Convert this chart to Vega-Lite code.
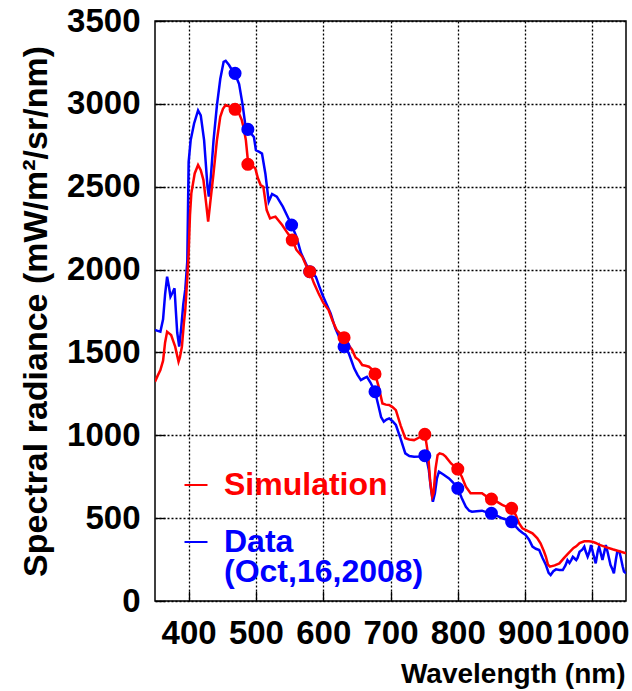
{
  "$schema": "https://vega.github.io/schema/vega-lite/v6.json",
  "width": 471,
  "height": 580,
  "autosize": {"type": "none"},
  "padding": {"left": 155, "top": 21, "right": 6, "bottom": 90},
  "background": "white",
  "config": {
    "view": {"stroke": "black", "strokeWidth": 1.5},
    "font": "Liberation Sans",
    "axis": {"labelFont": "Liberation Sans", "labelFontWeight": "bold", "labelColor": "black", "titleFont": "Liberation Sans", "titleFontWeight": "bold", "titleColor": "black"}
  },
  "datasets": {
    "lines": [
      {"w":350,"v":1635,"s":"Data"},{"w":354,"v":1630,"s":"Data"},{"w":358,"v":1625,"s":"Data"},{"w":362,"v":1700,"s":"Data"},{"w":365,"v":1850,"s":"Data"},{"w":368,"v":1957,"s":"Data"},{"w":371,"v":1890,"s":"Data"},{"w":373,"v":1836,"s":"Data"},{"w":376,"v":1860,"s":"Data"},{"w":379,"v":1887,"s":"Data"},{"w":381,"v":1750,"s":"Data"},{"w":383,"v":1620,"s":"Data"},{"w":386,"v":1535,"s":"Data"},{"w":389,"v":1650,"s":"Data"},{"w":392,"v":1790,"s":"Data"},{"w":395,"v":1880,"s":"Data"},{"w":398,"v":2050,"s":"Data"},{"w":400,"v":2650,"s":"Data"},{"w":403,"v":2780,"s":"Data"},{"w":408,"v":2880,"s":"Data"},{"w":414,"v":2960,"s":"Data"},{"w":418,"v":2930,"s":"Data"},{"w":423,"v":2780,"s":"Data"},{"w":428,"v":2500,"s":"Data"},{"w":430,"v":2440,"s":"Data"},{"w":433,"v":2560,"s":"Data"},{"w":437,"v":2780,"s":"Data"},{"w":442,"v":2990,"s":"Data"},{"w":447,"v":3150,"s":"Data"},{"w":452,"v":3254,"s":"Data"},{"w":455,"v":3260,"s":"Data"},{"w":460,"v":3234,"s":"Data"},{"w":465,"v":3200,"s":"Data"},{"w":470,"v":3170,"s":"Data"},{"w":475,"v":3120,"s":"Data"},{"w":480,"v":3000,"s":"Data"},{"w":484,"v":2880,"s":"Data"},{"w":488,"v":2846,"s":"Data"},{"w":493,"v":2820,"s":"Data"},{"w":497,"v":2800,"s":"Data"},{"w":500,"v":2720,"s":"Data"},{"w":505,"v":2710,"s":"Data"},{"w":509,"v":2700,"s":"Data"},{"w":514,"v":2580,"s":"Data"},{"w":519,"v":2410,"s":"Data"},{"w":524,"v":2456,"s":"Data"},{"w":531,"v":2440,"s":"Data"},{"w":540,"v":2380,"s":"Data"},{"w":547,"v":2320,"s":"Data"},{"w":553,"v":2269,"s":"Data"},{"w":560,"v":2200,"s":"Data"},{"w":567,"v":2100,"s":"Data"},{"w":574,"v":2038,"s":"Data"},{"w":580,"v":1987,"s":"Data"},{"w":585,"v":1970,"s":"Data"},{"w":589,"v":1957,"s":"Data"},{"w":594,"v":1900,"s":"Data"},{"w":599,"v":1846,"s":"Data"},{"w":605,"v":1790,"s":"Data"},{"w":611,"v":1736,"s":"Data"},{"w":618,"v":1645,"s":"Data"},{"w":624,"v":1590,"s":"Data"},{"w":631,"v":1535,"s":"Data"},{"w":638,"v":1495,"s":"Data"},{"w":642,"v":1450,"s":"Data"},{"w":646,"v":1404,"s":"Data"},{"w":651,"v":1365,"s":"Data"},{"w":656,"v":1333,"s":"Data"},{"w":661,"v":1345,"s":"Data"},{"w":665,"v":1353,"s":"Data"},{"w":670,"v":1320,"s":"Data"},{"w":677,"v":1263,"s":"Data"},{"w":682,"v":1180,"s":"Data"},{"w":686,"v":1110,"s":"Data"},{"w":690,"v":1082,"s":"Data"},{"w":694,"v":1095,"s":"Data"},{"w":698,"v":1102,"s":"Data"},{"w":703,"v":1085,"s":"Data"},{"w":708,"v":1062,"s":"Data"},{"w":715,"v":980,"s":"Data"},{"w":722,"v":891,"s":"Data"},{"w":728,"v":875,"s":"Data"},{"w":735,"v":871,"s":"Data"},{"w":743,"v":872,"s":"Data"},{"w":751,"v":877,"s":"Data"},{"w":754,"v":850,"s":"Data"},{"w":757,"v":790,"s":"Data"},{"w":760,"v":680,"s":"Data"},{"w":763,"v":599,"s":"Data"},{"w":766,"v":650,"s":"Data"},{"w":769,"v":740,"s":"Data"},{"w":772,"v":780,"s":"Data"},{"w":778,"v":765,"s":"Data"},{"w":787,"v":740,"s":"Data"},{"w":793,"v":715,"s":"Data"},{"w":800,"v":680,"s":"Data"},{"w":806,"v":620,"s":"Data"},{"w":812,"v":569,"s":"Data"},{"w":817,"v":545,"s":"Data"},{"w":821,"v":539,"s":"Data"},{"w":828,"v":542,"s":"Data"},{"w":836,"v":545,"s":"Data"},{"w":843,"v":535,"s":"Data"},{"w":850,"v":529,"s":"Data"},{"w":858,"v":515,"s":"Data"},{"w":866,"v":499,"s":"Data"},{"w":873,"v":490,"s":"Data"},{"w":880,"v":478,"s":"Data"},{"w":886,"v":450,"s":"Data"},{"w":891,"v":428,"s":"Data"},{"w":896,"v":412,"s":"Data"},{"w":901,"v":398,"s":"Data"},{"w":906,"v":370,"s":"Data"},{"w":911,"v":328,"s":"Data"},{"w":916,"v":315,"s":"Data"},{"w":921,"v":308,"s":"Data"},{"w":926,"v":260,"s":"Data"},{"w":931,"v":217,"s":"Data"},{"w":935,"v":170,"s":"Data"},{"w":938,"v":157,"s":"Data"},{"w":942,"v":180,"s":"Data"},{"w":946,"v":191,"s":"Data"},{"w":951,"v":187,"s":"Data"},{"w":956,"v":187,"s":"Data"},{"w":960,"v":215,"s":"Data"},{"w":963,"v":247,"s":"Data"},{"w":966,"v":230,"s":"Data"},{"w":969,"v":250,"s":"Data"},{"w":971,"v":267,"s":"Data"},{"w":974,"v":255,"s":"Data"},{"w":976,"v":247,"s":"Data"},{"w":978,"v":260,"s":"Data"},{"w":981,"v":297,"s":"Data"},{"w":985,"v":310,"s":"Data"},{"w":988,"v":328,"s":"Data"},{"w":990,"v":300,"s":"Data"},{"w":993,"v":267,"s":"Data"},{"w":996,"v":300,"s":"Data"},{"w":998,"v":338,"s":"Data"},{"w":1001,"v":290,"s":"Data"},{"w":1005,"v":227,"s":"Data"},{"w":1008,"v":300,"s":"Data"},{"w":1010,"v":328,"s":"Data"},{"w":1013,"v":280,"s":"Data"},{"w":1015,"v":247,"s":"Data"},{"w":1018,"v":300,"s":"Data"},{"w":1020,"v":338,"s":"Data"},{"w":1023,"v":290,"s":"Data"},{"w":1027,"v":217,"s":"Data"},{"w":1030,"v":190,"s":"Data"},{"w":1032,"v":167,"s":"Data"},{"w":1035,"v":250,"s":"Data"},{"w":1037,"v":297,"s":"Data"},{"w":1040,"v":300,"s":"Data"},{"w":1042,"v":267,"s":"Data"},{"w":1045,"v":210,"s":"Data"},{"w":1047,"v":177,"s":"Data"},{"w":1050,"v":167,"s":"Data"},
      {"w":350,"v":1323,"s":"Simulation"},{"w":354,"v":1360,"s":"Simulation"},{"w":358,"v":1394,"s":"Simulation"},{"w":362,"v":1450,"s":"Simulation"},{"w":365,"v":1560,"s":"Simulation"},{"w":368,"v":1625,"s":"Simulation"},{"w":371,"v":1615,"s":"Simulation"},{"w":374,"v":1605,"s":"Simulation"},{"w":377,"v":1570,"s":"Simulation"},{"w":380,"v":1535,"s":"Simulation"},{"w":383,"v":1480,"s":"Simulation"},{"w":385,"v":1444,"s":"Simulation"},{"w":387,"v":1470,"s":"Simulation"},{"w":390,"v":1535,"s":"Simulation"},{"w":393,"v":1680,"s":"Simulation"},{"w":395,"v":1756,"s":"Simulation"},{"w":398,"v":1950,"s":"Simulation"},{"w":400,"v":2100,"s":"Simulation"},{"w":402,"v":2330,"s":"Simulation"},{"w":404,"v":2460,"s":"Simulation"},{"w":409,"v":2580,"s":"Simulation"},{"w":414,"v":2631,"s":"Simulation"},{"w":418,"v":2600,"s":"Simulation"},{"w":422,"v":2540,"s":"Simulation"},{"w":426,"v":2400,"s":"Simulation"},{"w":429,"v":2289,"s":"Simulation"},{"w":432,"v":2400,"s":"Simulation"},{"w":437,"v":2581,"s":"Simulation"},{"w":442,"v":2780,"s":"Simulation"},{"w":447,"v":2922,"s":"Simulation"},{"w":451,"v":2970,"s":"Simulation"},{"w":455,"v":2993,"s":"Simulation"},{"w":460,"v":2985,"s":"Simulation"},{"w":465,"v":2975,"s":"Simulation"},{"w":470,"v":2960,"s":"Simulation"},{"w":475,"v":2940,"s":"Simulation"},{"w":479,"v":2902,"s":"Simulation"},{"w":482,"v":2850,"s":"Simulation"},{"w":485,"v":2782,"s":"Simulation"},{"w":488,"v":2660,"s":"Simulation"},{"w":493,"v":2630,"s":"Simulation"},{"w":499,"v":2611,"s":"Simulation"},{"w":503,"v":2551,"s":"Simulation"},{"w":507,"v":2510,"s":"Simulation"},{"w":511,"v":2500,"s":"Simulation"},{"w":516,"v":2359,"s":"Simulation"},{"w":521,"v":2309,"s":"Simulation"},{"w":525,"v":2315,"s":"Simulation"},{"w":529,"v":2319,"s":"Simulation"},{"w":539,"v":2269,"s":"Simulation"},{"w":547,"v":2220,"s":"Simulation"},{"w":554,"v":2182,"s":"Simulation"},{"w":560,"v":2120,"s":"Simulation"},{"w":569,"v":2077,"s":"Simulation"},{"w":575,"v":2020,"s":"Simulation"},{"w":580,"v":1987,"s":"Simulation"},{"w":586,"v":1920,"s":"Simulation"},{"w":593,"v":1857,"s":"Simulation"},{"w":600,"v":1800,"s":"Simulation"},{"w":608,"v":1756,"s":"Simulation"},{"w":614,"v":1690,"s":"Simulation"},{"w":620,"v":1635,"s":"Simulation"},{"w":626,"v":1610,"s":"Simulation"},{"w":631,"v":1589,"s":"Simulation"},{"w":637,"v":1550,"s":"Simulation"},{"w":643,"v":1515,"s":"Simulation"},{"w":648,"v":1470,"s":"Simulation"},{"w":653,"v":1454,"s":"Simulation"},{"w":658,"v":1424,"s":"Simulation"},{"w":663,"v":1420,"s":"Simulation"},{"w":668,"v":1414,"s":"Simulation"},{"w":672,"v":1400,"s":"Simulation"},{"w":677,"v":1370,"s":"Simulation"},{"w":682,"v":1300,"s":"Simulation"},{"w":688,"v":1192,"s":"Simulation"},{"w":693,"v":1185,"s":"Simulation"},{"w":698,"v":1183,"s":"Simulation"},{"w":703,"v":1170,"s":"Simulation"},{"w":708,"v":1152,"s":"Simulation"},{"w":715,"v":1060,"s":"Simulation"},{"w":722,"v":982,"s":"Simulation"},{"w":728,"v":975,"s":"Simulation"},{"w":735,"v":971,"s":"Simulation"},{"w":742,"v":985,"s":"Simulation"},{"w":751,"v":1006,"s":"Simulation"},{"w":753,"v":960,"s":"Simulation"},{"w":756,"v":880,"s":"Simulation"},{"w":759,"v":720,"s":"Simulation"},{"w":762,"v":630,"s":"Simulation"},{"w":764,"v":650,"s":"Simulation"},{"w":767,"v":800,"s":"Simulation"},{"w":770,"v":880,"s":"Simulation"},{"w":773,"v":891,"s":"Simulation"},{"w":778,"v":885,"s":"Simulation"},{"w":782,"v":871,"s":"Simulation"},{"w":790,"v":830,"s":"Simulation"},{"w":800,"v":796,"s":"Simulation"},{"w":806,"v":750,"s":"Simulation"},{"w":812,"v":690,"s":"Simulation"},{"w":819,"v":650,"s":"Simulation"},{"w":828,"v":650,"s":"Simulation"},{"w":836,"v":650,"s":"Simulation"},{"w":843,"v":630,"s":"Simulation"},{"w":850,"v":615,"s":"Simulation"},{"w":858,"v":600,"s":"Simulation"},{"w":866,"v":580,"s":"Simulation"},{"w":872,"v":570,"s":"Simulation"},{"w":880,"v":559,"s":"Simulation"},{"w":886,"v":520,"s":"Simulation"},{"w":891,"v":470,"s":"Simulation"},{"w":896,"v":439,"s":"Simulation"},{"w":903,"v":425,"s":"Simulation"},{"w":911,"v":408,"s":"Simulation"},{"w":918,"v":380,"s":"Simulation"},{"w":923,"v":348,"s":"Simulation"},{"w":928,"v":300,"s":"Simulation"},{"w":931,"v":267,"s":"Simulation"},{"w":934,"v":220,"s":"Simulation"},{"w":937,"v":207,"s":"Simulation"},{"w":944,"v":215,"s":"Simulation"},{"w":951,"v":227,"s":"Simulation"},{"w":958,"v":260,"s":"Simulation"},{"w":966,"v":295,"s":"Simulation"},{"w":972,"v":320,"s":"Simulation"},{"w":976,"v":330,"s":"Simulation"},{"w":981,"v":350,"s":"Simulation"},{"w":988,"v":360,"s":"Simulation"},{"w":995,"v":360,"s":"Simulation"},{"w":1000,"v":358,"s":"Simulation"},{"w":1005,"v":350,"s":"Simulation"},{"w":1010,"v":340,"s":"Simulation"},{"w":1020,"v":325,"s":"Simulation"},{"w":1030,"v":312,"s":"Simulation"},{"w":1040,"v":300,"s":"Simulation"},{"w":1050,"v":288,"s":"Simulation"}
    ],
    "points": [
      {"w":469,"v":3184,"s":"Data"},{"w":488,"v":2846,"s":"Data"},{"w":553,"v":2269,"s":"Data"},{"w":580,"v":1987,"s":"Data"},{"w":631,"v":1535,"s":"Data"},{"w":677,"v":1263,"s":"Data"},{"w":751,"v":877,"s":"Data"},{"w":800,"v":680,"s":"Data"},{"w":850,"v":529,"s":"Data"},{"w":880,"v":478,"s":"Data"},
      {"w":469,"v":2967,"s":"Simulation"},{"w":488,"v":2635,"s":"Simulation"},{"w":554,"v":2178,"s":"Simulation"},{"w":580,"v":1987,"s":"Simulation"},{"w":631,"v":1589,"s":"Simulation"},{"w":677,"v":1370,"s":"Simulation"},{"w":751,"v":1006,"s":"Simulation"},{"w":800,"v":796,"s":"Simulation"},{"w":850,"v":615,"s":"Simulation"},{"w":880,"v":559,"s":"Simulation"}
    ]
  },
  "encoding": {
    "x": {"field": "w", "type": "quantitative", "scale": {"domain": [350, 1050], "nice": false, "zero": false},
      "axis": {"orient": "bottom", "values": [400,500,600,700,800,900,1000], "format": "d",
        "grid": true, "gridDash": [2, 2], "gridWidth": 1.3, "gridColor": "#000000", "gridOpacity": 1,
        "ticks": true, "tickColor": "#000000", "tickWidth": 1.3, "tickSize": -10,
        "domain": false, "labelFontSize": 33, "labelPadding": 52, "labelBaseline": "alphabetic",
        "labelOverlap": false, "labelFlush": false, "labelBound": false,
        "title": "Wavelength (nm)", "titleFontSize": 28, "titleAlign": "right", "titleX": 470, "titleY": 81, "titleBaseline": "alphabetic"}},
    "y": {"field": "v", "type": "quantitative", "scale": {"domain": [0, 3500], "nice": false},
      "axis": {"orient": "left", "values": [0,500,1000,1500,2000,2500,3000,3500], "format": "d",
        "grid": true, "gridDash": [2, 2], "gridWidth": 1.3, "gridColor": "#000000", "gridOpacity": 1,
        "ticks": true, "tickColor": "#000000", "tickWidth": 1.3, "tickSize": -10,
        "domain": false, "labelFontSize": 33, "labelPadding": 25, "labelBaseline": "middle",
        "labelOverlap": false, "labelFlush": false, "labelBound": false,
        "title": "Spectral radiance (mW/m²/sr/nm)", "titleFontSize": 34, "titleX": -119, "titleBaseline": "middle"}},
    "color": {"field": "s", "type": "nominal", "scale": {"domain": ["Simulation", "Data"], "range": ["#ff0000", "#0000ff"]}}
  },
  "layer": [
    {
      "data": {"name": "lines"},
      "mark": {"type": "line", "strokeWidth": 2.5, "clip": true},
      "encoding": {
        "color": {"field": "s", "type": "nominal",
          "legend": {"orient": "none", "legendX": 25, "legendY": 448, "title": null, "symbolType": "stroke", "symbolSize": 529, "symbolStrokeWidth": 2,
            "labelFontSize": 32, "labelFont": "Liberation Sans", "labelFontWeight": "bold", "labelOffset": 12, "rowPadding": 25, "padding": 0, "direction": "vertical", "labelLimit": 0,
            "encode": {"labels": {"update": {
              "fill": {"signal": "datum.value === 'Simulation' ? '#ff0000' : '#0000ff'"},
              "text": {"signal": "datum.value === 'Data' ? ['Data', '(Oct,16,2008)'] : datum.value"},
              "lineHeight": {"value": 30}}}}}}
      }
    },
    {
      "data": {"name": "points"},
      "mark": {"type": "circle", "size": 170, "opacity": 1},
      "encoding": {
        "color": {"field": "s", "type": "nominal", "legend": null}
      }
    }
  ],
  "resolve": {"legend": {"color": "independent"}}
}
